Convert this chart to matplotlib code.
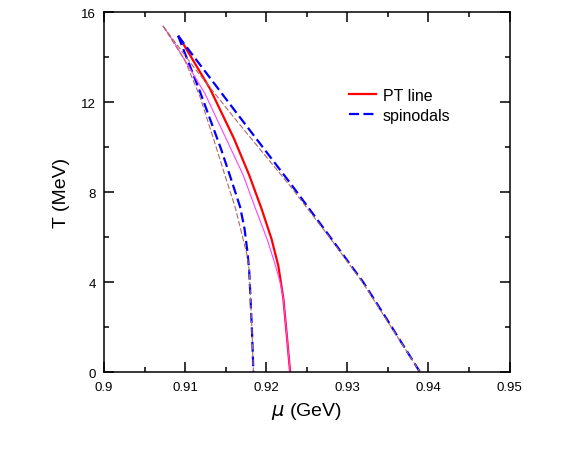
import numpy as np
import matplotlib
matplotlib.use("Agg")
import matplotlib.pyplot as plt
from matplotlib.ticker import MultipleLocator

plt.rcParams['font.family'] = ['Liberation Sans', 'DejaVu Sans']

# PT line (thick, red)
pt_mu = [0.90925, 0.90999, 0.91308, 0.91604, 0.91789, 0.91943, 0.92066, 0.92150, 0.92212, 0.92258, 0.92295]
pt_T = [14.90, 14.46, 12.59, 10.37, 8.77, 7.26, 5.92, 4.72, 3.26, 1.48, 0.0]

# PT line, second set (thin, magenta)
pt2_mu = [0.90728, 0.90876, 0.91061, 0.91246, 0.91530, 0.91715, 0.91869, 0.92011, 0.92116, 0.92177, 0.92212, 0.92258, 0.92295]
pt2_T = [15.38, 14.59, 13.48, 12.37, 10.19, 8.77, 7.26, 5.92, 4.72, 3.92, 3.26, 1.48, 0.0]

# spinodals (thick, blue dashed)
spl_mu = [0.90913, 0.91184, 0.91443, 0.91554, 0.91678, 0.91733, 0.91764, 0.91789, 0.91807, 0.91826, 0.91842]
spl_T = [14.95, 12.46, 9.92, 8.72, 7.35, 6.37, 5.48, 4.59, 3.26, 1.70, 0.0]
spr_mu = [0.90913, 0.91616, 0.92295, 0.92788, 0.93195, 0.93454, 0.93898]
spr_T = [14.95, 11.61, 8.41, 6.01, 4.01, 2.55, 0.0]

# spinodals, second set (thin, brown dashed)
sp2l_mu = [0.90728, 0.90999, 0.91184, 0.91382, 0.91505, 0.91616, 0.91715, 0.91764, 0.91789, 0.91807, 0.91826, 0.91842]
sp2l_T = [15.38, 13.84, 12.24, 10.01, 8.59, 7.35, 5.92, 5.21, 4.59, 3.26, 1.70, 0.0]
sp2r_mu = [0.90728, 0.91123, 0.91616, 0.92295, 0.92788, 0.93195, 0.93454, 0.93898]
sp2r_T = [15.38, 13.48, 11.26, 8.28, 5.96, 3.96, 2.50, 0.0]

xticks = [0.9, 0.91, 0.92, 0.93, 0.94, 0.95]
xticklabels = ['0.9', '0.91', '0.92', '0.93', '0.94', '0.95']

fig = plt.figure(figsize=(5.81, 4.52), dpi=100)
ax = fig.add_axes([0.179, 0.174, 0.698, 0.797])

ax.plot(pt_mu, pt_T, color='#ff0000', lw=1.6, label='PT line')
ax.plot(spl_mu, spl_T, color='#0000ff', lw=1.6, dashes=(4.5, 2), label='spinodals')
ax.plot(spr_mu, spr_T, color='#0000ff', lw=1.6, dashes=(4.5, 2))
ax.plot(pt2_mu, pt2_T, color='#ff40ff', lw=0.8)
ax.plot(sp2l_mu, sp2l_T, color='#b06868', lw=0.8, dashes=(5, 2))
ax.plot(sp2r_mu, sp2r_T, color='#b06868', lw=0.8, dashes=(5, 2))

ax.set_xlim(0.9, 0.95)
ax.set_ylim(0, 16)
ax.set_xticks(xticks)
ax.set_xticklabels(xticklabels)
ax.xaxis.set_minor_locator(MultipleLocator(0.005))
ax.yaxis.set_major_locator(MultipleLocator(4))
ax.yaxis.set_minor_locator(MultipleLocator(2))
ax.tick_params(which='both', direction='in', top=True, right=True, width=1.1, labelsize=9.5, pad=6)
ax.tick_params(which='major', length=7)
ax.tick_params(which='minor', length=3.5)
for s in ax.spines.values():
    s.set_linewidth(1.1)

ax.set_xlabel(r'$\mu$ (GeV)', fontsize=14, labelpad=5)
ax.set_ylabel('T (MeV)', fontsize=14, labelpad=7.5)

ax.legend(loc='upper left', bbox_to_anchor=(0.585, 0.812), frameon=False, fontsize=11.5,
          handlelength=1.7, handletextpad=0.4, labelspacing=0.3, borderpad=0)

fig.savefig('out.png', dpi=100)
